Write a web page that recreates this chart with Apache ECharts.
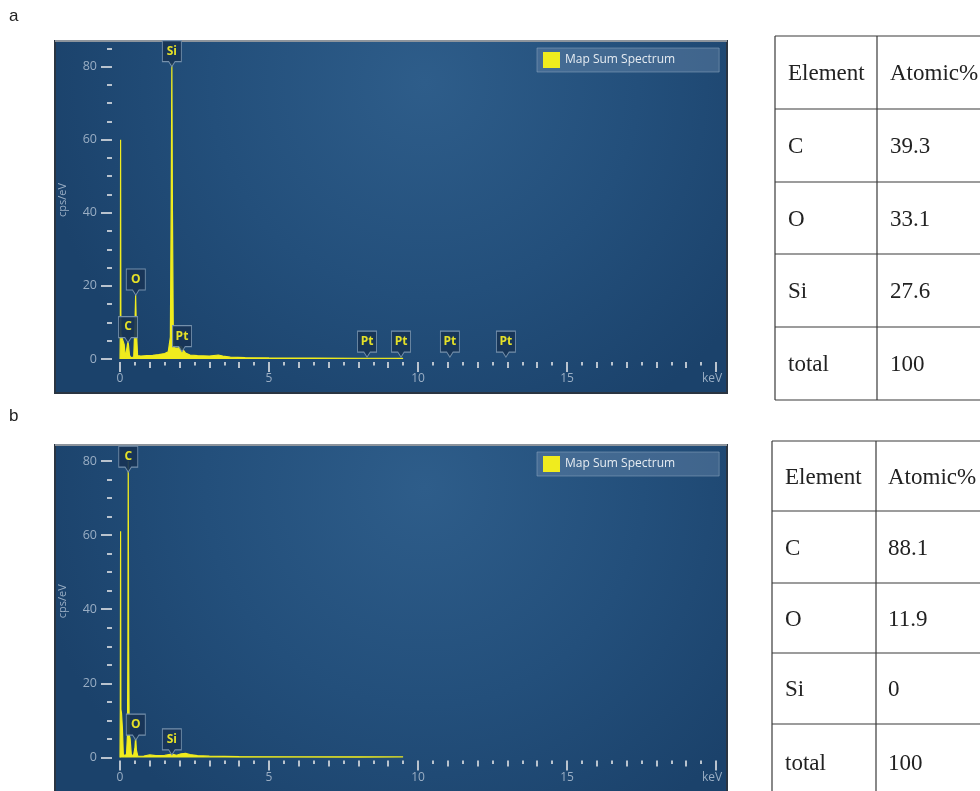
<!DOCTYPE html>
<html><head><meta charset="utf-8">
<script src="https://cdn.jsdelivr.net/npm/echarts@6/dist/echarts.min.js"></script>
<style>html,body{margin:0;padding:0;background:#fff}#c{width:980px;height:791px}</style>
</head><body><div id="c"></div>
<script>
// ---------- data ----------
const seriesName = 'Map Sum Spectrum';
const xMajorTicks = [0, 5, 10, 15, 20];
const xUnitLabel = 'keV';
const yMajorTicks = [0, 20, 40, 60, 80];
const yMinorTicks = [5, 10, 15, 25, 30, 35, 45, 50, 55, 65, 70, 75, 85];
const yName = 'cps/eV';

// spectrum a
const specA_keV = [0, 0.01, 0.02, 0.03, 0.06, 0.10, 0.14, 0.18, 0.24, 0.27, 0.29, 0.32, 0.36, 0.46, 0.50, 0.525, 0.55, 0.59, 0.7, 0.9, 1.1, 1.3, 1.5, 1.62, 1.69, 1.72, 1.74, 1.76, 1.79, 1.84, 1.95, 2.05, 2.12, 2.2, 2.35, 2.6, 3.0, 3.3, 3.45, 3.7, 4.2, 5.0, 6.5, 8.0, 9.5];
const specA_cps = [0, 7, 60, 7, 6, 6, 4, 0.4, 0.6, 5, 5, 1, 0.4, 0.5, 9, 17.5, 8, 0.9, 0.8, 0.9, 1.0, 1.2, 1.5, 2.0, 6, 45, 81, 40, 5, 3, 3, 3.5, 2.5, 1.6, 1.1, 0.9, 0.8, 1.1, 0.8, 0.5, 0.35, 0.3, 0.25, 0.2, 0.15];
const peakA_names = ['Si', 'C', 'O', 'Pt', 'Pt', 'Pt', 'Pt', 'Pt'];
const peakA_keV = [1.74, 0.27, 0.53, 2.08, 8.29, 9.43, 11.07, 12.95];
const peakA_cps = [80, 4.5, 17.5, 2, 0.5, 0.5, 0.5, 0.5];

// spectrum b
const specB_keV = [0, 0.01, 0.02, 0.03, 0.05, 0.08, 0.11, 0.16, 0.22, 0.25, 0.265, 0.277, 0.29, 0.31, 0.34, 0.38, 0.45, 0.50, 0.525, 0.55, 0.6, 0.8, 1.0, 1.2, 1.5, 1.74, 1.9, 2.05, 2.2, 2.35, 2.6, 3.0, 4.0, 6.0, 8.0, 9.5];
const specB_cps = [0, 13, 61, 13, 12, 8, 1, 0.3, 1, 6, 30, 80, 30, 6, 5, 0.8, 0.4, 2.5, 5.5, 2, 0.3, 0.4, 0.7, 0.5, 0.6, 0.9, 0.6, 1.0, 1.1, 0.8, 0.5, 0.35, 0.25, 0.2, 0.18, 0.15];
const peakB_names = ['C', 'O', 'Si'];
const peakB_keV = [0.277, 0.53, 1.74];
const peakB_cps = [77, 4.7, 0.7];

// tables
const tableHeader = ['Element', 'Atomic%'];
const tableElements = ['C', 'O', 'Si', 'total'];
const atomicA = ['39.3', '33.1', '27.6', '100'];
const atomicB = ['88.1', '11.9', '0', '100'];
const panelLetters = ['a', 'b'];

// ---------- styling / layout ----------
const yellow = '#f0ec1e';
const tickColor = '#b9c3ce';
const labelColor = '#9aaec4';
const uiFont = '"Open Sans", "Noto Sans", sans-serif';

const layouts = [
  { grid: { left: 120, top: 41, width: 596, height: 318 }, yMax: 87,
    panel: { x: 55, y: 41, w: 672, h: 352 }, legendTop: 48,
    table: { left: 775, col: 877, rows: [36, 109, 182, 254, 327, 400], tx1: 788, tx2: 890 },
    letterY: 8 },
  { grid: { left: 120, top: 445, width: 596, height: 312.5 }, yMax: 84.3,
    panel: { x: 55, y: 445, w: 672, h: 360 }, legendTop: 452,
    table: { left: 772, col: 876, rows: [441, 511, 583, 653, 724, 800], tx1: 785, tx2: 888 },
    letterY: 408 }
];

const specs = [
  { keV: specA_keV, cps: specA_cps, pn: peakA_names, pk: peakA_keV, pc: peakA_cps, atomic: atomicA },
  { keV: specB_keV, cps: specB_cps, pn: peakB_names, pk: peakB_keV, pc: peakB_cps, atomic: atomicB }
];

const grids = [], xAxis = [], yAxis = [], series = [], legend = [], graphic = [];

layouts.forEach((L, gi) => {
  const S = specs[gi];
  grids.push(Object.assign({ containLabel: false }, L.grid));

  const xb = { gridIndex: gi, type: 'value', min: 0, max: 20, position: 'bottom', offset: 3,
    axisLine: { show: false, onZero: false }, splitLine: { show: false }, axisLabel: { show: false } };
  const xi = xAxis.length;
  xAxis.push(Object.assign({}, xb, {
    axisTick: { show: true, customValues: xMajorTicks, length: 10, lineStyle: { color: tickColor, width: 2 } },
    axisLabel: { show: true, customValues: xMajorTicks,
      formatter: v => (v === 20 ? '{u|' + xUnitLabel + '}' : String(v)),
      rich: { u: { color: labelColor, fontSize: 12, fontFamily: uiFont, padding: [0, 8, 0, 0] } },
      color: labelColor, fontSize: 12, margin: 11, fontFamily: uiFont }
  }));
  xAxis.push(Object.assign({}, xb, { interval: 1, axisTick: { show: true, length: 6, lineStyle: { color: tickColor, width: 2 } } }));
  xAxis.push(Object.assign({}, xb, { interval: 0.5, axisTick: { show: true, length: 3.5, lineStyle: { color: tickColor, width: 2 } } }));

  const yb = { gridIndex: gi, type: 'value', min: 0, max: L.yMax, position: 'left', offset: 8,
    axisLine: { show: false, onZero: false }, splitLine: { show: false }, axisLabel: { show: false } };
  const yi = yAxis.length;
  yAxis.push(Object.assign({}, yb, {
    axisTick: { show: true, customValues: yMajorTicks, length: 11, lineStyle: { color: tickColor, width: 2 } },
    axisLabel: { show: true, customValues: yMajorTicks, color: labelColor, fontSize: 12.5, margin: 15, fontFamily: uiFont },
    name: yName, nameLocation: 'middle', nameGap: 44, nameRotate: 90,
    nameTextStyle: { color: labelColor, fontSize: 11, fontFamily: uiFont }
  }));
  yAxis.push(Object.assign({}, yb, {
    axisTick: { show: true, customValues: yMinorTicks.filter(v => v < L.yMax), length: 5, lineStyle: { color: tickColor, width: 2 } }
  }));

  series.push({
    type: 'line', name: seriesName, xAxisIndex: xi, yAxisIndex: yi,
    data: S.keV.map((k, i) => [k, S.cps[i]]),
    showSymbol: false, symbol: 'none', smooth: false,
    lineStyle: { color: yellow, width: 1.2 },
    areaStyle: { color: yellow, opacity: 1 },
    itemStyle: { color: yellow },
    markPoint: {
      symbol: 'path://M0,0L18,0L18,21L12,21L9,26L6,21L0,21Z',
      symbolSize: [19, 26], symbolOffset: [0, '-50%'],
      itemStyle: { color: 'rgba(24,52,86,0.92)', borderColor: '#7590ab', borderWidth: 1 },
      label: { show: true, formatter: '{b}', color: '#e4e028', fontSize: 12, fontWeight: 'bold',
        fontFamily: uiFont, position: 'inside', offset: [0, -2.5] },
      data: S.pn.map((n, i) => ({ name: n, coord: [S.pk[i], S.pc[i]] }))
    }
  });

  legend.push({
    data: [seriesName], left: 537, top: L.legendTop, orient: 'horizontal',
    icon: 'rect', itemWidth: 17, itemHeight: 16, itemGap: 6,
    padding: [4, 44, 4, 6],
    backgroundColor: 'rgba(105,135,170,0.45)', borderColor: 'rgba(140,165,190,0.55)', borderWidth: 1,
    textStyle: { color: '#e6ecf2', fontSize: 12, fontFamily: uiFont },
    selectedMode: false
  });

  // panel background
  const P = L.panel;
  graphic.push({
    type: 'rect', z: -10, shape: { x: P.x, y: P.y, width: P.w, height: P.h },
    style: {
      fill: new echarts.graphic.RadialGradient(0.55, 0.12, 1.1, [
        { offset: 0, color: '#2e5d8a' }, { offset: 0.55, color: '#234f7b' }, { offset: 1, color: '#1b426b' }
      ]),
      stroke: '#2a3542', lineWidth: 2
    }
  });
  graphic.push({ type: 'line', z: -9, shape: { x1: P.x, y1: P.y, x2: P.x + P.w, y2: P.y },
    style: { stroke: '#8d949c', lineWidth: 2 } });

  // panel letter
  graphic.push({ type: 'text', left: 9, top: L.letterY,
    style: { text: panelLetters[gi], font: '17px "Liberation Sans", Arial, sans-serif', fill: '#222' } });

  // table
  const T = L.table;
  const bottom = T.rows[T.rows.length - 1];
  const lineStyle = { stroke: '#3a3a3a', lineWidth: 1.2 };
  graphic.push({ type: 'line', shape: { x1: T.left, y1: T.rows[0], x2: T.left, y2: bottom }, style: lineStyle });
  graphic.push({ type: 'line', shape: { x1: T.col, y1: T.rows[0], x2: T.col, y2: bottom }, style: lineStyle });
  T.rows.forEach(y => {
    graphic.push({ type: 'line', shape: { x1: T.left, y1: y, x2: 985, y2: y }, style: lineStyle });
  });
  const cells = [[tableHeader[0], tableHeader[1]]].concat(tableElements.map((e, i) => [e, S.atomic[i]]));
  cells.forEach((row, r) => {
    const cy = (T.rows[r] + T.rows[r + 1]) / 2 + 1.5;
    [T.tx1, T.tx2].forEach((tx, c) => {
      graphic.push({ type: 'text', x: tx, y: cy,
        style: { text: row[c], font: '23px "Liberation Serif", "Times New Roman", serif', fill: '#222',
          textVerticalAlign: 'middle', verticalAlign: 'middle' } });
    });
  });
});

const chart = echarts.init(document.getElementById('c'), null, { renderer: 'canvas' });
chart.setOption({
  animation: false,
  backgroundColor: '#ffffff',
  grid: grids, xAxis, yAxis, series, legend, graphic
});
</script>
</body></html>
